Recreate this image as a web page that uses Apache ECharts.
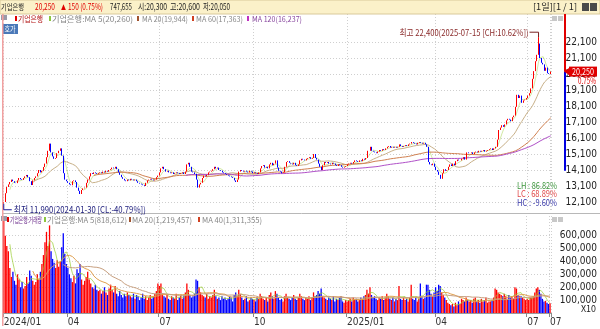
<!DOCTYPE html>
<html><head><meta charset="utf-8">
<script src="https://cdn.jsdelivr.net/npm/echarts@6/dist/echarts.min.js"></script>
<style>html,body{margin:0;padding:0;background:#fff}#c{width:600px;height:329px}</style>
</head><body><div id="c"></div>
<script>
// ---- data ----
const monthDays = [['2024-01',2],['2024-02',19],['2024-03',21],['2024-04',21],['2024-05',20],['2024-06',19],
  ['2024-07',23],['2024-08',21],['2024-09',18],['2024-10',20],['2024-11',21],['2024-12',20],
  ['2025-01',18],['2025-02',20],['2025-03',20],['2025-04',22],['2025-05',19],['2025-06',19],['2025-07',16]];
const firstOpen = 12000;
const closes = [
 12100,12650,
 13040,13200,13350,13500,13400,13300,13280,13450,13600,13520,13480,13600,13700,13790,13650,13400,13160,13450,13600,
 13700,13900,14100,13950,14050,14290,14500,14900,15300,15750,15200,14950,14800,14850,15150,15300,15450,15000,13900,13500,13400,
 13300,13200,13150,13400,13450,13350,13000,12800,12600,12850,12950,13000,13300,13500,13700,13900,13850,13950,13900,13850,13900,
 13950,13900,14000,13950,14050,14000,14100,14150,14250,14200,14300,14150,13950,13800,13650,13550,13450,13400,13500,13450,
 13550,13500,13450,13500,13400,13300,13250,13200,13150,13100,13300,13450,13500,13550,13500,13450,13500,13650,13750,
 13950,14200,14300,14150,14000,14050,13950,13900,13950,13850,13900,13950,13900,13850,13900,13950,13850,14000,14450,14550,14300,14000,13950,
 13850,13500,13000,13200,13300,13600,13750,13700,13800,13950,14000,14050,14150,14300,14200,14250,14100,14050,13950,13900,13850,
 13800,13750,13700,13650,13600,13450,13350,13500,14000,14100,14050,14000,14050,14000,13950,14050,14000,13900,
 13950,13900,13850,13950,14200,14350,14400,14250,14300,14200,14450,14550,14400,14500,14700,14250,14050,14000,13900,13950,
 14300,14600,14650,14550,14500,14450,14550,14400,14350,14450,14700,14800,14750,14700,14800,14850,14900,14800,14850,15100,14850,
 14750,14500,14300,14100,14400,14600,14550,14600,14500,14450,14550,14500,14400,14350,14450,14400,14300,14250,14300,14350,
 14450,14500,14550,14500,14600,14700,14650,14600,14700,14650,14800,14750,14850,15300,15300,15550,15300,15250,
 15200,15150,15250,15350,15300,15400,15350,15450,15550,15600,15500,15550,15500,15550,15500,15550,15700,15600,15550,15600,
 15650,15600,15700,15750,15850,15800,15750,15700,15800,15850,15800,15750,15800,15700,15550,14600,14450,14400,14500,14300,
 14100,14000,13800,13550,13900,14150,14050,14100,14300,14450,14350,14500,14400,14650,14750,14700,14700,14800,14900,14750,15200,15150,
 15150,15200,15100,15200,15250,15200,15300,15250,15300,15350,15250,15300,15350,15400,15450,15350,15450,15550,16000,
 16600,16750,16900,16800,16950,17200,17300,17250,17150,17400,17500,18050,18800,18600,18750,18300,18450,18500,18600,
 18750,18900,19200,19800,20280,20900,21300,22000,21100,20800,20700,20300,20500,20150,20100,20250
];
const extremeHigh = [350, 22400];
const extremeLow = [0, 11990];
// volume, thousand shares
const volumeK = [
 7200,6000,
 5200,4800,3500,2800,3200,2500,2200,3000,2600,2000,2400,1900,2100,2800,2300,3300,2900,2500,2200,
 2400,3000,2600,3200,3800,4500,5500,6300,5200,6800,4800,4200,3900,3500,4100,3600,4000,5100,6200,4600,3800,
 3500,3000,2700,2400,2900,2300,3400,3100,3800,2600,2200,2500,2800,3200,2600,2300,2000,1900,2200,1800,1700,
 1800,1500,1700,2000,1600,1400,1900,2200,1800,1600,2100,1500,1300,1700,1400,1200,1500,1300,1600,1400,
 1300,1200,1500,1100,1400,1300,1000,1200,1500,1100,1300,1000,1200,1400,1100,1300,1500,1700,2300,
 2100,2300,1500,1300,1200,1400,1100,1000,1300,1200,1100,1500,1000,1200,1400,1100,1300,1600,2300,1800,1400,1200,1300,
 1500,2600,2500,2000,1600,1400,1300,1200,1500,1100,1300,1200,1400,1800,1300,1100,1200,1000,1300,1100,1200,
 1000,1100,1300,1200,900,1400,1600,1300,1800,1500,1200,1000,1100,1300,900,1000,1200,1100,
 1000,900,1200,1100,1500,1300,1100,1000,1200,900,1400,1600,1300,1100,1700,1500,1200,1000,1100,900,
 1300,1500,1200,1100,1000,1200,1400,1100,1000,1200,1500,1300,1100,1000,1200,1100,1300,1000,1200,1600,1300,
 1400,1700,1500,1900,1300,1200,1100,1000,1200,1100,1000,1300,900,1100,1000,1200,1300,900,800,1000,
 900,1000,1100,900,1200,1000,1100,900,1000,1200,1100,1300,1400,1800,1500,2000,1400,1200,
 1300,1100,1000,1200,1100,1300,1000,1200,1500,1300,1100,1000,1200,900,1100,1000,2100,1100,1000,1200,
 1000,1100,900,1200,2200,1100,1000,1200,900,1100,2300,1300,1100,1200,2200,2200,1800,1500,1300,1600,
 2000,1700,2200,2100,1600,1400,1200,1000,800,700,600,700,500,800,600,900,700,1100,1000,900,1200,1000,
 900,1000,800,1100,1200,900,1000,800,1100,900,1000,1200,800,900,900,1000,1200,1900,1800,
 1600,1500,1400,1300,1500,1300,1100,1400,1200,1300,1100,2000,1900,1400,1300,1300,1200,1100,1000,
 1096,1000,1200,1200,1300,1600,1900,2000,1800,1500,1100,900,945,800,700,748
];
const priceTicks = [12100,13100,14100,15100,16100,17100,18100,19100,20100,21100,22100];
const volTicksK = [1000,2000,3000,4000,5000,6000];
const quarterMonths = ['2024-01','2024-04','2024-07','2024-10','2025-01','2025-04','2025-07'];
const quarterText = ['2024/01','04','07','10','2025/01','04','07'];
const lastText = '07';
const rangeBarBottom = 14050;

// ---- build ----
const cats = [], monthOf = [];
monthDays.forEach(([ym, n]) => { for (let k = 1; k <= n; k++) { cats.push(ym + '-' + String(k).padStart(2,'0')); monthOf.push(ym); } });
const N = closes.length;
const qLabel = {};
quarterMonths.forEach((m, j) => { const idx = monthOf.indexOf(m); if (idx >= 0) qLabel[idx] = quarterText[j]; });
qLabel[N - 1] = lastText;
const isQ = (i) => qLabel[i] !== undefined;

const candles = closes.map((c, i) => {
  const o = i === 0 ? firstOpen : closes[i - 1];
  let lo = Math.min(o, c), hi = Math.max(o, c);
  if (i === extremeHigh[0]) hi = extremeHigh[1];
  if (i === extremeLow[0]) lo = extremeLow[1];
  return [o, c, lo, hi];
});
function ma(arr, n) {
  return arr.map((_, i) => { if (i < n - 1) return '-'; let s = 0; for (let k = i - n + 1; k <= i; k++) s += arr[k]; return +(s / n).toFixed(2); });
}
const volBars = volumeK.map((v, i) => ({ value: v, itemStyle: { color: candles[i][1] >= candles[i][0] ? '#ff0000' : '#0000ff' } }));

const F = '"Noto Sans CJK KR", "Noto Sans", sans-serif';
const FA = '"Liberation Sans Narrow", "DejaVu Sans Condensed", "Liberation Sans", sans-serif';
const splitStyle = { color: '#cfcfcf', type: [1, 2], width: 1 };

const chart = echarts.init(document.getElementById('c'));
const option = {
  animation: false,
  backgroundColor: '#ffffff',
  grid: [
    { left: 3, top: 14, width: 556, height: 198 },
    { left: 3, top: 216, width: 556, height: 97 }
  ],
  xAxis: [
    { type: 'category', gridIndex: 0, data: cats, boundaryGap: true,
      axisLine: { show: false }, axisTick: { show: false }, axisLabel: { show: false },
      splitLine: { show: true, interval: isQ, lineStyle: splitStyle } },
    { type: 'category', gridIndex: 1, data: cats, boundaryGap: true,
      axisLine: { show: true, lineStyle: { color: '#9a9a9a' } },
      axisTick: { show: true, interval: isQ, length: 4, lineStyle: { color: '#888' } },
      axisLabel: { show: true, interval: isQ, formatter: (v, i) => qLabel[i] || '', align: 'left', margin: 4, fontSize: 10, color: '#333', fontFamily: FA },
      splitLine: { show: true, interval: isQ, lineStyle: splitStyle } }
  ],
  yAxis: [
    { type: 'value', gridIndex: 0, position: 'right', min: 11475, max: 23850, scale: true,
      axisLine: { show: false }, axisTick: { show: false, customValues: priceTicks },
      axisLabel: { customValues: priceTicks, formatter: v => v.toLocaleString('en-US'), fontSize: 10, color: '#222', margin: 14, fontFamily: FA },
      splitLine: { show: true, lineStyle: splitStyle } },
    { type: 'value', gridIndex: 1, position: 'right', min: 0, max: 7531,
      axisLine: { show: false }, axisTick: { show: false, customValues: volTicksK },
      axisLabel: { customValues: volTicksK, formatter: v => (v * 100).toLocaleString('en-US'), fontSize: 10, color: '#222', margin: 9, fontFamily: FA },
      splitLine: { show: true, lineStyle: splitStyle } }
  ],
  series: [
    { type: 'candlestick', xAxisIndex: 0, yAxisIndex: 0, data: candles, barWidth: 1.3,
      itemStyle: { color: '#ff0000', color0: '#0000ff', borderColor: '#ff0000', borderColor0: '#0000ff', borderWidth: 1 }, z: 5 },
    { type: 'line', xAxisIndex: 0, yAxisIndex: 0, data: ma(closes, 5), showSymbol: false, lineStyle: { width: 1, color: '#9acd32', opacity: 0.45 }, z: 3 },
    { type: 'line', xAxisIndex: 0, yAxisIndex: 0, data: ma(closes, 20), showSymbol: false, lineStyle: { width: 1, color: '#c8b088' }, z: 3 },
    { type: 'line', xAxisIndex: 0, yAxisIndex: 0, data: ma(closes, 60), showSymbol: false, lineStyle: { width: 1, color: '#d08050' }, z: 3 },
    { type: 'line', xAxisIndex: 0, yAxisIndex: 0, data: ma(closes, 120), showSymbol: false, lineStyle: { width: 1, color: '#b050c8' }, z: 3 },
    { type: 'bar', xAxisIndex: 1, yAxisIndex: 1, data: volBars, barWidth: '85%', z: 2 },
    { type: 'line', xAxisIndex: 1, yAxisIndex: 1, data: ma(volumeK, 5), showSymbol: false, lineStyle: { width: 1, color: '#9acd32', opacity: 0.7 }, z: 4 },
    { type: 'line', xAxisIndex: 1, yAxisIndex: 1, data: ma(volumeK, 20), showSymbol: false, lineStyle: { width: 1, color: '#e0a050' }, z: 4 },
    { type: 'line', xAxisIndex: 1, yAxisIndex: 1, data: ma(volumeK, 40), showSymbol: false, lineStyle: { width: 1, color: '#c8a080' }, z: 4 }
  ]
};
chart.setOption(option);

const mctx = document.createElement('canvas').getContext('2d');
// text fitted to the width it takes in the reference
function T(x, y, s, fill, size, align, w) {
  const font = `${size || 9}px ${F}`;
  let sx = 1;
  if (w) { mctx.font = font; const mw = mctx.measureText(s).width; if (mw > 0) sx = w / mw; }
  return { type: 'text', x, y, scaleX: sx, silent: true, z: 100,
    style: { text: s, fill, font, align: align || 'left', verticalAlign: 'middle' } };
}
function R(x, y, w, h, fill, stroke) {
  return { type: 'rect', silent: true, z: 99, shape: { x, y, width: w, height: h }, style: { fill, stroke: stroke || null, lineWidth: 1 } };
}
function L(pts, stroke, w) {
  return { type: 'polyline', silent: true, z: 101, shape: { points: pts }, style: { stroke, lineWidth: w || 1, fill: null } };
}
const g = [];
// header
g.push(R(0, 0, 600, 14, '#fbf1c9', '#d9c99a'));
g.push(T(1, 7, '기업은행', '#222', 8, 'left', 23));
g.push(T(35, 7, '20,250', '#e00000', 9, 'left', 20));
g.push(T(61, 7, '▲', '#e00000', 7, 'left', 5));
g.push(T(68, 7, '150 (0.75%)', '#e00000', 9, 'left', 35));
g.push(T(110, 7, '747,655', '#222', 9, 'left', 22));
g.push(T(138, 7, '시:20,300', '#222', 9, 'left', 29));
g.push(T(170, 7, '고:20,600', '#222', 9, 'left', 30));
g.push(T(203, 7, '저:20,050', '#222', 9, 'left', 27));
g.push(T(533, 7, '[1일][1 / 1]', '#222', 9, 'left', 44));
g.push(R(582, 3, 7, 8, '#4a4a4a')); g.push(R(590, 3, 7, 8, '#4a4a4a'));
// price legend row
g.push(R(1, 15, 6, 5, '#9a9aa8'));
g.push(R(15, 16, 2, 5, '#e00000')); g.push(T(18, 18.5, '기업은행', '#b01010', 8, 'left', 25));
g.push(R(49, 16, 2, 5, '#8cc63f')); g.push(T(52, 18.5, '기업은행:MA 5(20,260)', '#888', 8, 'left', 81));
g.push(R(137, 16, 2, 5, '#a0522d')); g.push(T(142, 18.5, 'MA 20(19,944)', '#888', 8, 'left', 46));
g.push(R(192, 16, 2, 5, '#d04020')); g.push(T(196, 18.5, 'MA 60(17,363)', '#888', 8, 'left', 47));
g.push(R(247, 16, 2, 5, '#c030c0')); g.push(T(252, 18.5, 'MA 120(16,237)', '#8a4aa0', 8, 'left', 50));
g.push(R(2, 24, 16, 10, '#4a78b8')); g.push(T(10, 29, '호가', '#ffffff', 8, 'center', 11));
// volume legend row
g.push(R(1, 216, 6, 5, '#9a9aa8'));
g.push(R(7, 217, 2, 5, '#e00000')); g.push(T(10, 219.5, '기업은행:거래량', '#6a2a8a', 8, 'left', 32));
g.push(R(44, 217, 2, 5, '#8cc63f')); g.push(T(47, 219.5, '기업은행:MA 5(818,612)', '#888', 8, 'left', 80));
g.push(R(129, 217, 2, 5, '#a0522d')); g.push(T(132, 219.5, 'MA 20(1,219,457)', '#888', 8, 'left', 60));
g.push(R(198, 217, 2, 5, '#d04020')); g.push(T(202, 219.5, 'MA 40(1,311,355)', '#888', 8, 'left', 60));
g.push(T(596, 309, 'X10', '#222', 9, 'right', 15));
// panel frame bits
g.push(R(2, 14, 1.5, 312, '#f2a0a0'));
g.push({ type: 'line', silent: true, z: 98, shape: { x1: 3, y1: 213.5, x2: 600, y2: 213.5 }, style: { stroke: '#b8b8b8', lineWidth: 1 } });
g.push(R(552, 16, 5, 5, '#c8c8c8')); g.push(R(558, 16, 5, 5, '#c8c8c8'));
g.push(R(552, 217, 5, 5, '#c8c8c8')); g.push(R(558, 217, 5, 5, '#c8c8c8'));
// LH/LC/HC
g.push(T(557, 185.5, 'LH : 86.82%', '#3c963c', 9, 'right', 40));
g.push(T(557, 194, 'LC : 68.89%', '#e04848', 9, 'right', 40));
g.push(T(557, 202.5, 'HC : -9.60%', '#3838a8', 9, 'right', 40));

// data-driven decorations
const px = (i, v) => chart.convertToPixel({ xAxisIndex: 0, yAxisIndex: 0 }, [i, v]);
const last = closes[N - 1];
const pLast = px(N - 1, last);
const topY = chart.convertToPixel({ yAxisIndex: 0 }, 23850);
const botY = chart.convertToPixel({ yAxisIndex: 0 }, rangeBarBottom);
g.push(L([[565, topY], [565, pLast[1]]], '#e00000', 2));
g.push(L([[565, pLast[1]], [565, botY]], '#0000e0', 2));
g.push({ type: 'polygon', silent: true, z: 102, shape: { points: [[564, pLast[1]], [569, pLast[1] - 3.5], [569, pLast[1] + 3.5]] }, style: { fill: '#e00000' } });
g.push(R(569, pLast[1] - 5, 28, 10, '#e00000'));
g.push(T(583, pLast[1], last.toLocaleString('en-US'), '#ffffff', 9, 'center', 22));
g.push(T(596, pLast[1] + 9, '0.75%', '#e00000', 9, 'right', 18));
const pHi = px(extremeHigh[0], extremeHigh[1]);
g.push(L([[pHi[0] - 9, pHi[1] - 5], [pHi[0], pHi[1] - 5], [pHi[0], pHi[1]]], '#7a2020', 1));
g.push(T(pHi[0] - 10, pHi[1] - 5, '최고 22,400(2025-07-15 [CH:10.62%])', '#8a2a2a', 9, 'right', 129));
const pLo = px(extremeLow[0], extremeLow[1]);
g.push(L([[pLo[0], pLo[1]], [pLo[0], pLo[1] + 6], [pLo[0] + 8, pLo[1] + 6]], '#1a1a9a', 1));
g.push(T(pLo[0] + 10, pLo[1] + 6, '최저 11,990(2024-01-30 [CL:-40.79%])', '#1a1a7a', 9, 'left', 132));
chart.setOption({ graphic: g });
</script></body></html>
